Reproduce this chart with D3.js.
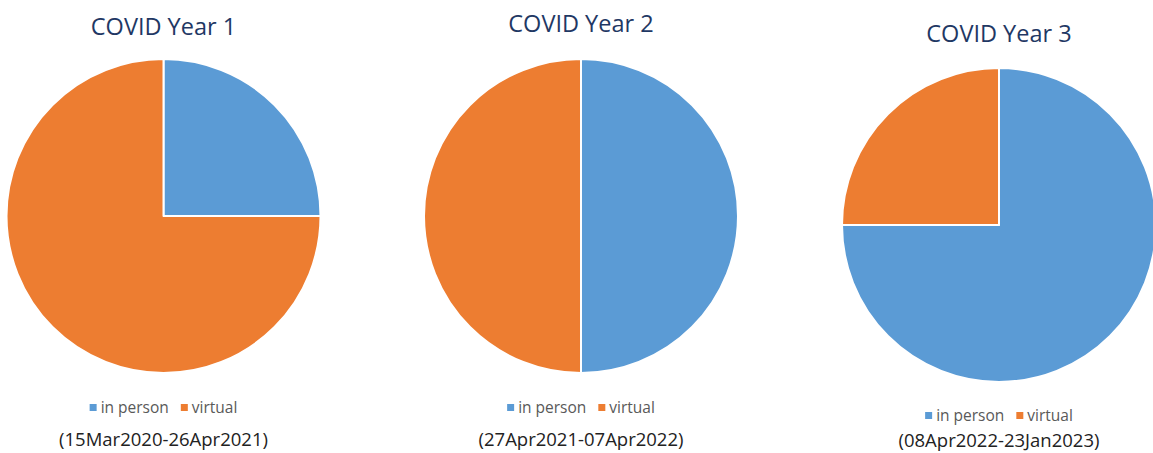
<!DOCTYPE html>
<html>
<head>
<meta charset="utf-8">
<script src="https://cdn.jsdelivr.net/npm/d3@7"></script>
<style>
  body { margin: 0; background: #fff; }
  svg { display: block; font-family: "Open Sans", "Noto Sans", sans-serif; }
</style>
</head>
<body>
<div id="chart"></div>
<script>
// data (shares in percent)
var titles = ["COVID Year 1", "COVID Year 2", "COVID Year 3"];
var periods = ["(15Mar2020-26Apr2021)", "(27Apr2021-07Apr2022)", "(08Apr2022-23Jan2023)"];
var categories = ["in person", "virtual"];
var inPerson = [25, 50, 75];
var virtual = [75, 50, 25];

var width = 1153, height = 453;
var colors = d3.scaleOrdinal().domain(categories).range(["#5B9BD5", "#ED7D31"]);

// layout of each panel
var panels = [
  {cx: 163.5, cy: 216, titleY: 35, legendY: 413, periodY: 446},
  {cx: 581, cy: 216, titleY: 32, legendY: 413, periodY: 446},
  {cx: 999, cy: 225, titleY: 42, legendY: 421, periodY: 447}
];
var radius = 157;

var svg = d3.select("#chart").append("svg")
    .attr("width", width)
    .attr("height", height);

var pie = d3.pie().sort(null).value(function (d) { return d.value; });
var arc = d3.arc().innerRadius(0).outerRadius(radius);

panels.forEach(function (p, i) {
    var slices = categories.map(function (c, j) {
        return {key: c, value: j === 0 ? inPerson[i] : virtual[i]};
    });

    var g = svg.append("g").attr("class", "panel");

    g.append("text")
        .attr("x", p.cx)
        .attr("y", p.titleY)
        .attr("text-anchor", "middle")
        .attr("fill", "#1F3864")
        .style("font-size", "23.5px")
        .text(titles[i]);

    g.append("g")
        .attr("transform", "translate(" + p.cx + "," + p.cy + ")")
      .selectAll("path")
        .data(pie(slices))
      .enter().append("path")
        .attr("d", arc)
        .attr("fill", function (d) { return colors(d.data.key); })
        .attr("stroke", "#fff")
        .attr("stroke-width", 2)
        .attr("stroke-linejoin", "round");

    // legend, centred under the pie
    var legend = g.append("g").attr("class", "legend");
    var x = 0;
    categories.forEach(function (c, j) {
        var item = legend.append("g").attr("transform", "translate(" + x + ",0)");
        item.append("rect")
            .attr("x", 0).attr("y", -9)
            .attr("width", 7).attr("height", 7)
            .attr("fill", colors(c));
        var t = item.append("text")
            .attr("x", 11).attr("y", 0)
            .attr("fill", "#595959")
            .style("font-size", "15.5px")
            .text(c);
        x += 11 + t.node().getComputedTextLength() + 12;
    });
    var lw = x - 12;
    legend.attr("transform", "translate(" + (p.cx - lw / 2) + "," + p.legendY + ")");

    g.append("text")
        .attr("x", p.cx)
        .attr("y", p.periodY)
        .attr("text-anchor", "middle")
        .attr("fill", "#222")
        .style("font-size", "18.5px")
        .text(periods[i]);
});
</script>
</body>
</html>
